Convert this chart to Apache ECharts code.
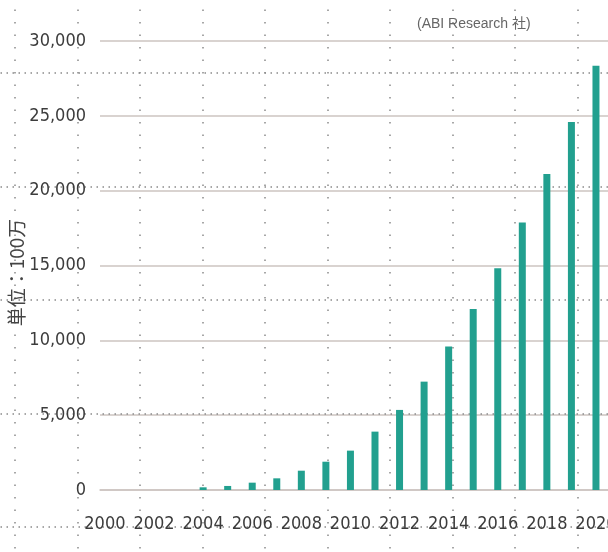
<!DOCTYPE html>
<html>
<head>
<meta charset="utf-8">
<script src="https://cdn.jsdelivr.net/npm/echarts@6/dist/echarts.min.js"></script>
<style>
html, body { margin: 0; padding: 0; background: #ffffff; }
#main { width: 608px; height: 552px; }
</style>
</head>
<body>
<div id="main"></div>
<script>
// 年份和数值（单位：100万）
var years = [2000, 2001, 2002, 2003, 2004, 2005, 2006, 2007, 2008, 2009, 2010,
	2011, 2012, 2013, 2014, 2015, 2016, 2017, 2018, 2019, 2020];
var values = [0, 0, 0, 0, 180, 270, 490, 780, 1290, 1890, 2630,
	3900, 5350, 7240, 9580, 12100, 14820, 17870, 21120, 24580, 28340];
var yearLabels = [2000, 2002, 2004, 2006, 2008, 2010, 2012, 2014, 2016, 2018, 2020];

var labelFont = "'DejaVu Sans Condensed', 'Liberation Sans', sans-serif";

var barData = [];
for (var i = 0; i < years.length; i++) {
	barData.push([years[i], values[i]]);
}

var chart = echarts.init(document.getElementById('main'));
var option = {
	backgroundColor: '#ffffff',
	animation: false,
	title: {
		text: '(ABI Research 社)',
		left: 412,
		top: 12,
		textStyle: {
			fontSize: 14,
			fontWeight: 'normal',
			color: '#666666',
			fontFamily: "'Liberation Sans', 'Noto Sans CJK JP', sans-serif"
		}
	},
	grid: [
		{ // 图表
			left: 100,
			right: 0,
			top: 41,
			bottom: 62,
			outerBoundsMode: 'none',
			containLabel: false,
			z: 2
		},
		{ // 背景的点线方格
			left: -47.5,
			top: -40.5,
			width: 687.5,
			height: 681,
			outerBoundsMode: 'none',
			containLabel: false,
			z: 0
		}
	],
	xAxis: [
		{
			type: 'value',
			gridIndex: 0,
			min: 1999.8,
			max: 2020.49,
			splitLine: { show: false },
			axisTick: { show: false },
			axisLine: { show: true, lineStyle: { color: '#cdc5c1', width: 1.5 } },
			axisLabel: {
				customValues: yearLabels,
				hideOverlap: false,
				margin: 25,
				fontSize: 18,
				color: '#3c3c3c',
				fontFamily: labelFont,
				formatter: function (v) { return String(v); }
			}
		},
		{
			type: 'value',
			gridIndex: 1,
			min: -1,
			max: 10,
			interval: 1,
			axisLine: { show: false },
			axisTick: { show: false },
			axisLabel: { show: false },
			splitLine: { show: true, lineStyle: { color: '#8a8a8a', width: 1.5, type: [1.5, 11] } }
		}
	],
	yAxis: [
		{
			type: 'value',
			gridIndex: 0,
			min: 0,
			max: 30000,
			interval: 5000,
			name: '単位：100万',
			nameLocation: 'middle',
			nameRotate: 90,
			nameGap: 74,
			nameMoveOverlap: false,
			nameTextStyle: {
				fontSize: 19,
				color: '#444444',
				fontFamily: "'Noto Sans CJK JP', sans-serif",
				padding: [0, 14, 0, 0]
			},
			axisLine: { show: false },
			axisTick: { show: false },
			axisLabel: {
				margin: 14,
				fontSize: 18,
				color: '#3c3c3c',
				fontFamily: labelFont,
				formatter: function (v) { return echarts.format.addCommas(v); }
			},
			splitLine: { show: true, lineStyle: { color: '#cdc5c1', width: 1.5 } }
		},
		{
			type: 'value',
			gridIndex: 1,
			min: -1,
			max: 5,
			interval: 1,
			axisLine: { show: false },
			axisTick: { show: false },
			axisLabel: { show: false },
			splitLine: { show: true, lineStyle: { color: '#8a8a8a', width: 1.5, type: [1.5, 4.5] } }
		}
	],
	series: [
		{
			type: 'bar',
			xAxisIndex: 0,
			yAxisIndex: 0,
			data: barData,
			barWidth: 7,
			z: 3,
			itemStyle: { color: '#22a08f' }
		}
	]
};
chart.setOption(option);
</script>
</body>
</html>
